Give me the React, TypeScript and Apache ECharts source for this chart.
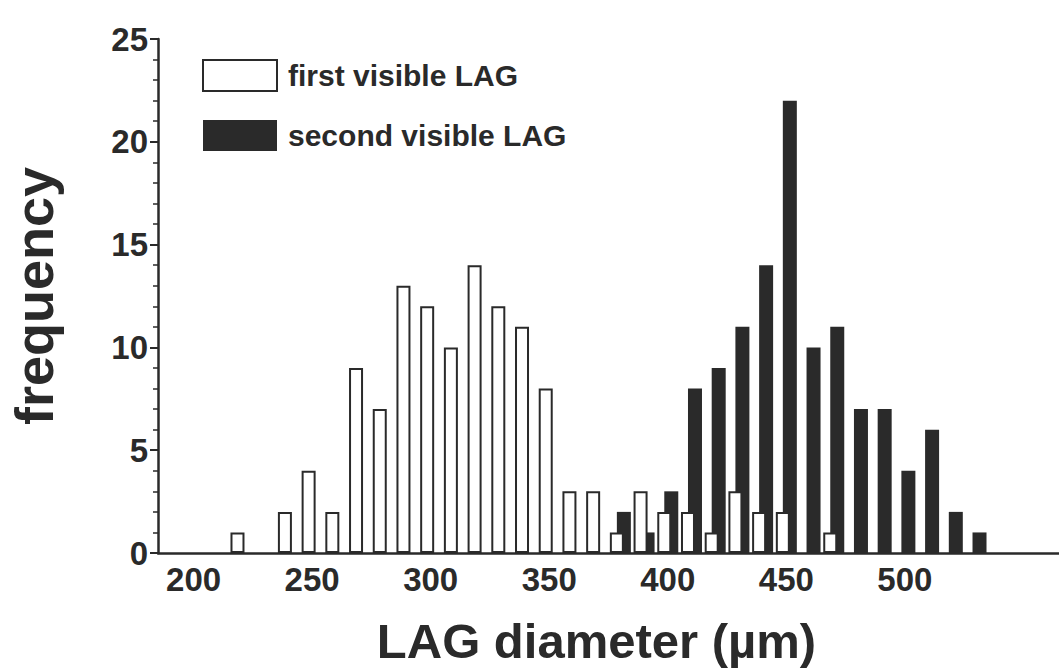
import React, { useEffect, useRef } from "react";
import * as echarts from "echarts";

// bins of 10 µm (bin centres)
const bins: number[] = [
  190, 200, 210, 220, 230, 240, 250, 260, 270, 280, 290, 300, 310, 320, 330, 340, 350, 360, 370,
  380, 390, 400, 410, 420, 430, 440, 450, 460, 470, 480, 490, 500, 510, 520, 530, 540, 550, 560,
];
const firstVisible: number[] = [
  0, 0, 0, 1, 0, 2, 4, 2, 9, 7, 13, 12, 10, 14, 12, 11, 8, 3, 3,
  1, 3, 2, 2, 1, 3, 2, 2, 0, 1, 0, 0, 0, 0, 0, 0, 0, 0, 0,
];
const secondVisible: number[] = [
  0, 0, 0, 0, 0, 0, 0, 0, 0, 0, 0, 0, 0, 0, 0, 0, 0, 0, 0,
  2, 1, 3, 8, 9, 11, 14, 22, 10, 11, 7, 7, 4, 6, 2, 1, 0, 0, 0,
];
const xTickLabels: number[] = [200, 250, 300, 350, 400, 450, 500];
const seriesNames: string[] = ["first visible LAG", "second visible LAG"];

const FONT = "'Liberation Sans', Arial, Helvetica, sans-serif";
const INK = "#2a2a2a";

// empty bins are not drawn
const nz = (arr: number[]) => arr.map((v) => (v === 0 ? "-" : v));

export default function App() {
  const ref = useRef<HTMLDivElement>(null);

  useEffect(() => {
    if (!ref.current) return;
    const chart = echarts.init(ref.current, null, { renderer: "svg" });
    chart.setOption({
      animation: false,
      backgroundColor: "#ffffff",
      grid: {
        left: 158,
        right: 0,
        top: 39,
        bottom: 117,
        containLabel: false,
        outerBoundsMode: "none",
      },
      legend: {
        orient: "vertical",
        left: 197,
        top: 54,
        itemWidth: 74,
        itemHeight: 31,
        itemGap: 28,
        icon: "rect",
        data: seriesNames,
        textStyle: {
          fontFamily: FONT,
          fontWeight: "bold",
          fontSize: 30,
          color: INK,
          padding: [0, 0, 0, 6],
        },
      },
      xAxis: {
        type: "category",
        data: bins.map(String),
        boundaryGap: true,
        axisLine: { show: true, lineStyle: { color: INK, width: 2.5 } },
        axisTick: { show: false },
        splitLine: { show: false },
        axisLabel: {
          interval: (_i: number, v: string) => xTickLabels.includes(Number(v)),
          margin: 10,
          fontFamily: FONT,
          fontWeight: "bold",
          fontSize: 33,
          color: INK,
        },
        name: "LAG diameter (µm)",
        nameLocation: "middle",
        nameGap: 63,
        nameTextStyle: {
          fontFamily: FONT,
          fontWeight: "bold",
          fontSize: 49,
          lineHeight: 49,
          color: INK,
          padding: [0, 24, 0, 0],
        },
      },
      yAxis: {
        type: "value",
        min: 0,
        max: 25,
        interval: 5,
        axisLine: { show: true, lineStyle: { color: INK, width: 2.5 } },
        axisTick: { show: true, length: 8, lineStyle: { color: INK, width: 2 } },
        minorTick: { show: true, splitNumber: 5, length: 5, lineStyle: { color: INK, width: 1.5 } },
        splitLine: { show: false },
        minorSplitLine: { show: false },
        axisLabel: {
          margin: 10,
          fontFamily: FONT,
          fontWeight: "bold",
          fontSize: 33,
          color: INK,
        },
        name: "frequency",
        nameLocation: "middle",
        nameGap: 97,
        nameRotate: 90,
        nameTextStyle: {
          fontFamily: FONT,
          fontWeight: "bold",
          fontSize: 54,
          color: INK,
        },
      },
      series: [
        {
          name: seriesNames[0],
          type: "bar",
          data: nz(firstVisible),
          barWidth: 14,
          barGap: "-50%",
          z: 3,
          itemStyle: { color: "#ffffff", borderColor: INK, borderWidth: 2 },
        },
        {
          name: seriesNames[1],
          type: "bar",
          data: nz(secondVisible),
          barWidth: 14,
          barGap: "-50%",
          z: 2,
          itemStyle: { color: INK, borderColor: INK, borderWidth: 0 },
        },
      ],
    });
    return () => chart.dispose();
  }, []);

  return (
    <div
      ref={ref}
      style={{ position: "absolute", left: 0, top: 0, width: 1059, height: 670, background: "#fff" }}
    />
  );
}
